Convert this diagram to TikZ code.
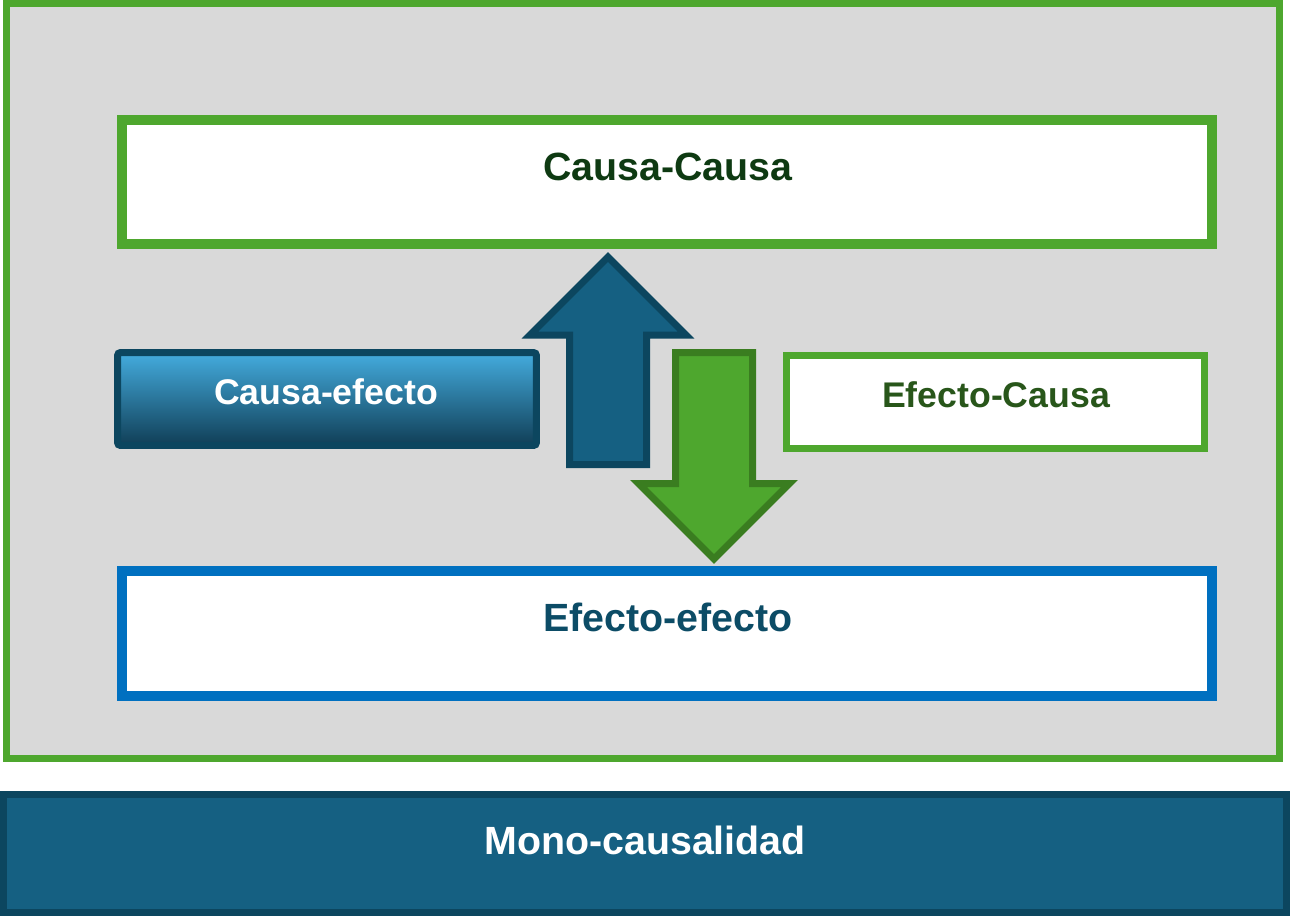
\documentclass[tikz,border=0pt]{standalone}
\usepackage{fontspec}
\setmainfont{Liberation Sans}
\usepackage{tikz}
\usetikzlibrary{positioning}
\definecolor{framegreen}{RGB}{78,167,46}
\definecolor{panelgray}{RGB}{217,217,217}
\definecolor{deepteal}{RGB}{21,96,130}
\definecolor{darkteal}{RGB}{12,70,95}
\definecolor{skyblue}{RGB}{68,172,222}
\definecolor{nightteal}{RGB}{16,62,86}
\definecolor{linkblue}{RGB}{0,112,192}
\definecolor{leafgreen}{RGB}{58,125,32}
\definecolor{forestgreen}{RGB}{14,58,18}
\definecolor{mossgreen}{RGB}{40,86,26}
\definecolor{inkteal}{RGB}{12,76,102}

\begin{document}
\begin{tikzpicture}[x=0.02cm,y=-0.02cm,
    leveltext/.style={font=\fontsize{22.4}{27}\bfseries\selectfont},
    sidetext/.style={font=\fontsize{20.3}{24}\bfseries\selectfont},
    levelbox/.style={rectangle,draw,line width=0.2cm,fill=white,minimum width=21.8cm}]
    \useasboundingbox (0,0) rectangle (1290,916);

    % Frame
    \node[rectangle,draw=framegreen,line width=0.14cm,fill=panelgray,minimum width=25.46cm,minimum height=15.1cm] (frame) at (643,381) {};

    % Causa-Causa
    \node[levelbox,draw=framegreen,minimum height=2.48cm] (cc) at (667,182) {};
    \node[leveltext,text=forestgreen] (cctext) at (668,167) {Causa-Causa};

    % Efecto-efecto
    \node[levelbox,draw=linkblue,minimum height=2.5cm] (ee) at (667,633.5) {};
    \node[leveltext,text=inkteal] (eetext) at (668,617) {Efecto-efecto};

    % Causa-efecto
    \node[rectangle,draw=darkteal,line width=0.14cm,rounded corners=0.06cm,
        top color=skyblue,middle color=deepteal!85!skyblue,bottom color=nightteal,
        minimum width=8.38cm,minimum height=1.86cm] (ce) at (327,399) {};
    \node[sidetext,text=white] (cetext) at (326,392) {Causa-efecto};

    % Efecto-Causa
    \node[rectangle,draw=framegreen,line width=0.14cm,fill=white,minimum width=8.36cm,minimum height=1.86cm] (ec) at (995.5,402) {};
    \node[sidetext,text=mossgreen] (ectext) at (996,395) {Efecto-Causa};

    % Arrows
    \draw[line width=0.14cm,line join=miter,draw=darkteal,fill=deepteal]
        (569.5,464.5) -- (569.5,335) -- (530,335) -- (608,257) -- (686,335) -- (646.5,335) -- (646.5,464.5) -- cycle;
    \draw[line width=0.14cm,line join=miter,draw=leafgreen,fill=framegreen]
        (675.5,352.5) -- (675.5,483.5) -- (638.5,483.5) -- (714,559) -- (789.5,483.5) -- (752.5,483.5) -- (752.5,352.5) -- cycle;

    % Mono-causalidad
    \node[rectangle,draw=darkteal,line width=0.14cm,fill=deepteal,minimum width=25.66cm,minimum height=2.36cm] (mono) at (645,853.5) {};
    \node[leveltext,text=white] (monotext) at (645,840) {Mono-causalidad};
\end{tikzpicture}
\end{document}
